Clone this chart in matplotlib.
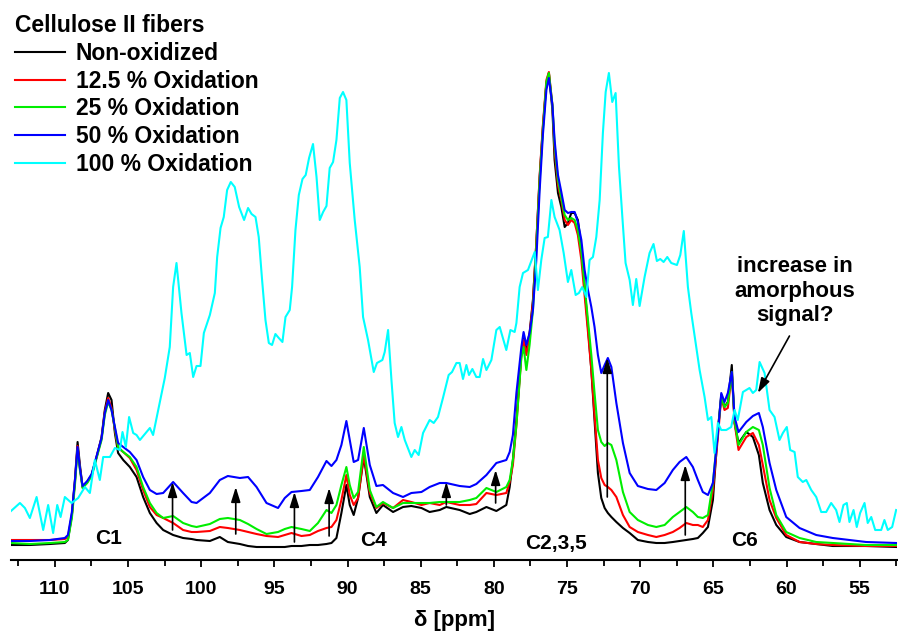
import numpy as np
import matplotlib
matplotlib.use("Agg")
import matplotlib.pyplot as plt

plt.rcParams['font.family'] = ['Liberation Sans', 'DejaVu Sans']
plt.rcParams['font.weight'] = 'bold'

## chemical shift grid (ppm) shared by the 0 - 50 % spectra
shift = [113.00, 111.71, 110.34, 109.32, 109.11, 108.84, 108.63, 108.45, 108.29, 108.11,
         107.79, 107.49, 107.15, 106.81, 106.59, 106.36, 106.13, 105.90, 105.68, 105.33,
         104.88, 104.42, 103.97, 103.51, 103.05, 102.60, 101.92, 101.24, 100.66, 100.32,
         99.41, 98.73, 98.18, 97.36, 96.80, 96.22, 95.54, 94.75, 94.29, 93.83,
         93.15, 92.58, 92.02, 91.44, 91.10, 90.76, 90.42, 90.08, 89.85, 89.58,
         89.28, 88.89, 88.48, 88.03, 87.58, 86.89, 86.21, 85.64, 84.95, 84.39,
         83.70, 83.25, 82.34, 81.65, 81.20, 80.51, 79.83, 79.15, 78.92, 78.70,
         78.46, 78.12, 77.97, 77.78, 77.56, 77.33, 77.10, 76.87, 76.65, 76.41,
         76.24, 76.00, 75.85, 75.62, 75.39, 75.16, 74.94, 74.71, 74.48, 74.26,
         74.02, 73.80, 73.57, 73.34, 73.12, 72.89, 72.66, 72.43, 72.21, 71.97,
         71.63, 71.18, 70.72, 70.16, 69.47, 68.90, 68.33, 67.77, 67.31, 66.85,
         66.40, 66.06, 65.72, 65.37, 65.03, 64.69, 64.46, 64.24, 64.01, 63.74,
         63.55, 63.28, 62.75, 62.30, 61.89, 61.62, 61.16, 60.70, 60.02, 59.11,
         57.97, 56.84, 54.56, 52.49]

non_ox = [15, 15, 16, 17, 20, 45, 80, 118, 95, 73,
          78, 85, 103, 123, 150, 167, 160, 127, 107, 100,
          93, 83, 63, 47, 37, 30, 25, 22, 21, 20,
          19, 23, 18, 16, 14, 13, 13, 13, 13, 14,
          14, 15, 15, 16, 17, 22, 47, 75, 55, 45,
          62, 103, 63, 47, 55, 48, 53, 54, 52, 48,
          50, 53, 50, 46, 48, 53, 49, 55, 73, 100,
          140, 207, 223, 210, 227, 260, 317, 383, 433, 477,
          487, 450, 400, 367, 353, 333, 337, 347, 347, 340,
          313, 273, 233, 190, 140, 87, 62, 52, 47, 43,
          38, 32, 27, 20, 18, 17, 17, 18, 19, 20,
          21, 22, 27, 33, 60, 130, 165, 153, 158, 195,
          137, 117, 128, 123, 105, 77, 50, 35, 23, 18,
          16, 14, 14, 13]

ox_12 = [20, 20, 20, 21, 23, 45, 78, 114, 92, 73,
         78, 85, 103, 122, 148, 162, 152, 130, 112, 108,
         102, 90, 70, 53, 45, 42, 37, 30, 28, 28,
         29, 33, 32, 30, 28, 26, 24, 23, 25, 27,
         24, 25, 29, 32, 33, 40, 60, 85, 65, 55,
         62, 105, 67, 52, 57, 52, 60, 58, 55, 57,
         55, 58, 55, 55, 56, 67, 65, 67, 78, 95,
         135, 205, 220, 205, 225, 258, 317, 385, 435, 480,
         488, 455, 410, 375, 360, 340, 335, 340, 337, 325,
         300, 265, 228, 190, 145, 100, 82, 75, 73, 70,
         63, 45, 33, 28, 25, 23, 25, 28, 32, 37,
         35, 35, 33, 40, 70, 123, 163, 150, 152, 187,
         137, 110, 123, 127, 115, 95, 60, 42, 25, 18,
         16, 15, 14, 14]

ox_25 = [17, 16, 17, 18, 20, 42, 75, 110, 90, 72,
         77, 84, 102, 120, 145, 158, 150, 132, 113, 108,
         103, 93, 73, 57, 47, 42, 44, 37, 34, 33,
         36, 41, 42, 40, 36, 31, 26, 28, 31, 33,
         31, 29, 37, 50, 47, 55, 75, 93, 75, 62,
         68, 113, 70, 53, 58, 52, 57, 57, 57, 57,
         58, 58, 58, 60, 62, 72, 68, 73, 80, 100,
         135, 203, 213, 190, 215, 250, 312, 380, 430, 478,
         487, 455, 415, 380, 362, 345, 340, 342, 340, 330,
         308, 275, 240, 205, 167, 130, 118, 114, 117, 115,
         100, 68, 48, 40, 35, 33, 35, 43, 48, 53,
         48, 43, 42, 45, 77, 130, 163, 153, 157, 188,
         140, 115, 128, 133, 130, 115, 72, 45, 28, 22,
         18, 17, 15, 15]

ox_50 = [19, 19, 20, 22, 25, 48, 80, 113, 92, 74,
         79, 86, 104, 122, 147, 160, 150, 133, 117, 113,
         108, 100, 83, 70, 66, 67, 78, 67, 58, 57,
         67, 80, 84, 82, 83, 73, 57, 52, 62, 68,
         69, 70, 83, 99, 94, 100, 115, 139, 120, 98,
         100, 132, 95, 74, 75, 67, 63, 67, 68, 73,
         77, 77, 74, 73, 76, 85, 97, 100, 108, 125,
         167, 213, 228, 215, 227, 250, 300, 370, 425, 470,
         482, 455, 420, 385, 368, 350, 347, 348, 348, 338,
         320, 290, 270, 253, 233, 205, 187, 195, 202, 193,
         157, 117, 87, 74, 71, 70, 77, 90, 98, 103,
         93, 80, 68, 65, 77, 127, 167, 158, 167, 188,
         143, 128, 138, 144, 147, 133, 97, 70, 43, 32,
         25, 22, 18, 17]

## 100 % oxidation spectrum has its own (noisier) grid
shift_100 = [113.00, 112.39, 112.05, 111.71, 111.25, 110.80, 110.46, 110.12, 109.84, 109.61,
             109.32, 108.86, 108.41, 107.95, 107.61, 107.27, 106.93, 106.70, 106.24, 105.90,
             105.56, 105.38, 105.15, 104.93, 104.65, 104.42, 104.19, 103.74, 103.51, 103.29,
             102.94, 102.49, 102.15, 101.92, 101.69, 101.35, 101.00, 100.78, 100.55, 100.32,
             100.05, 99.82, 99.41, 99.07, 98.91, 98.68, 98.46, 98.23, 97.98, 97.71,
             97.41, 97.07, 96.80, 96.56, 96.29, 96.07, 95.84, 95.61, 95.38, 95.16,
             94.93, 94.70, 94.45, 94.24, 93.95, 93.79, 93.56, 93.33, 93.08, 92.86,
             92.63, 92.36, 92.12, 91.90, 91.67, 91.44, 91.22, 90.99, 90.76, 90.53,
             90.31, 90.08, 89.85, 89.51, 89.17, 88.94, 88.60, 88.21, 87.99, 87.62,
             87.46, 87.23, 87.00, 86.78, 86.55, 86.32, 86.09, 85.64, 85.41, 85.14,
             84.84, 84.39, 84.11, 83.82, 83.48, 83.09, 82.86, 82.56, 82.34, 82.11,
             81.88, 81.70, 81.47, 81.20, 80.97, 80.74, 80.51, 80.17, 79.83, 79.60,
             79.15, 78.87, 78.58, 78.46, 78.24, 78.01, 77.67, 77.21, 76.99, 76.76,
             76.53, 76.31, 76.07, 75.85, 75.51, 75.23, 74.94, 74.71, 74.41, 74.19,
             73.96, 73.68, 73.46, 73.23, 73.00, 72.77, 72.55, 72.36, 72.14, 71.91,
             71.68, 71.45, 71.22, 71.00, 70.72, 70.50, 70.27, 70.04, 69.70, 69.36,
             69.09, 68.86, 68.63, 68.40, 68.15, 67.88, 67.49, 67.26, 67.02, 66.74,
             66.51, 66.24, 65.94, 65.60, 65.37, 65.14, 64.92, 64.69, 64.46, 64.12,
             63.78, 63.55, 63.33, 62.98, 62.53, 62.30, 62.07, 61.84, 61.50, 61.16,
             60.82, 60.48, 60.25, 59.98, 59.75, 59.45, 59.23, 58.89, 58.65, 58.31,
             57.97, 57.63, 57.29, 56.95, 56.61, 56.38, 56.11, 55.88, 55.70, 55.42,
             55.20, 54.97, 54.67, 54.45, 54.21, 53.94, 53.53, 53.31, 53.08, 52.78,
             52.51]

ox_100 = [49, 57, 52, 42, 63, 30, 55, 27, 55, 43,
          63, 57, 62, 73, 67, 100, 80, 103, 103, 112,
          110, 128, 113, 143, 127, 125, 120, 128, 132, 125,
          150, 182, 213, 273, 297, 247, 205, 207, 183, 194,
          194, 227, 245, 267, 303, 332, 343, 370, 378, 373,
          353, 340, 352, 346, 343, 323, 280, 240, 217, 215,
          226, 222, 218, 243, 250, 273, 330, 365, 381, 385,
          402, 416, 383, 340, 348, 354, 392, 398, 420, 462,
          468, 460, 397, 340, 293, 243, 220, 188, 197, 200,
          208, 230, 180, 137, 123, 133, 120, 103, 110, 105,
          127, 140, 137, 143, 162, 185, 188, 197, 197, 181,
          195, 185, 191, 183, 183, 201, 190, 200, 230, 233,
          210, 230, 228, 237, 273, 287, 290, 308, 270, 300,
          322, 323, 360, 343, 330, 307, 278, 290, 265, 267,
          273, 263, 300, 303, 323, 360, 427, 468, 487, 458,
          467, 393, 343, 297, 280, 255, 281, 254, 283, 307,
          316, 299, 301, 298, 303, 297, 295, 305, 329, 273,
          247, 220, 190, 163, 140, 143, 107, 137, 130, 130,
          133, 150, 140, 168, 172, 167, 170, 198, 187, 150,
          143, 120, 127, 133, 110, 108, 83, 78, 80, 70,
          63, 48, 48, 57, 50, 38, 55, 57, 38, 50,
          33, 47, 57, 37, 43, 30, 30, 40, 30, 33,
          50]

labels = ["Non-oxidized", "12.5 % Oxidation", "25 % Oxidation",
          "50 % Oxidation", "100 % Oxidation"]
colors = ["#000000", "#ff0000", "#00ee00", "#0000ff", "#00ffff"]

## arrows marking the growing amorphous signal
arrow_x = [101.96, 97.64, 93.63, 91.26, 83.25, 79.88, 72.25, 66.92]
arrow_from = [30, 26, 18, 24, 55, 57, 63, 25]
arrow_to = [78, 73, 68, 72, 78, 90, 202, 95]

peak_names = ["C1", "C4", "C2,3,5", "C6"]
peak_x = [106.31, 88.26, 75.73, 62.87]
peak_y = [22, 20, 17, 19]

fig = plt.figure(figsize=(8.98, 6.34), dpi=100)
ax = fig.add_axes([11 / 898, 74 / 634, 886 / 898, 560 / 634])

series = [(shift, non_ox), (shift, ox_12), (shift, ox_25), (shift, ox_50), (shift_100, ox_100)]
for (x, y), lab, c in zip(series, labels, colors):
    ax.plot(x, y, color=c, lw=1.5, label=lab)

head = "-|>,head_length=0.9,head_width=0.28"
for xa, y0, y1 in zip(arrow_x, arrow_from, arrow_to):
    ax.annotate("", xy=(xa, y1), xytext=(xa, y0),
                arrowprops=dict(arrowstyle=head, color="black", lw=1.2,
                                mutation_scale=10, shrinkA=0, shrinkB=0))

for name, xp, yp in zip(peak_names, peak_x, peak_y):
    ax.text(xp, yp, name, ha="center", va="center", fontsize=15, fontweight="bold")

ax.text(59.45, 269, "increase in\namorphous\nsignal?", ha="center", va="center",
        fontsize=16, fontweight="bold", linespacing=1.25)
ax.annotate("", xy=(61.96, 167), xytext=(59.80, 224),
            arrowprops=dict(arrowstyle=head, color="black", lw=1.2,
                            mutation_scale=10, shrinkA=0, shrinkB=0))

ax.set_xlim(113.0, 52.45)
ax.set_ylim(0, 560)
ax.set_xticks(np.arange(55, 111, 5))
ax.set_xticks(np.arange(52.5, 113, 2.5), minor=True)
ax.tick_params(axis="x", which="major", direction="out", length=5, width=1.3,
               labelsize=14, pad=10)
ax.tick_params(axis="x", which="minor", direction="out", length=4, width=1.3)
for lbl in ax.get_xticklabels():
    lbl.set_fontweight("bold")
ax.set_yticks([])
for s in ["top", "left", "right"]:
    ax.spines[s].set_visible(False)
ax.spines["bottom"].set_linewidth(1.5)
ax.set_xlabel("δ [ppm]", fontsize=16, fontweight="bold", labelpad=9)

leg = ax.legend(loc="upper left", bbox_to_anchor=(15 / 898, 1 - 14 / 634),
                bbox_transform=fig.transFigure, frameon=False, fontsize=16.5,
                title="Cellulose II fibers", alignment="left",
                title_fontproperties={"weight": "bold", "size": 16.5},
                handlelength=2.2, handletextpad=0.45, labelspacing=0.21,
                borderpad=0, borderaxespad=0)
for t in leg.get_texts():
    t.set_fontweight("bold")

fig.savefig("out.png", dpi=100)
